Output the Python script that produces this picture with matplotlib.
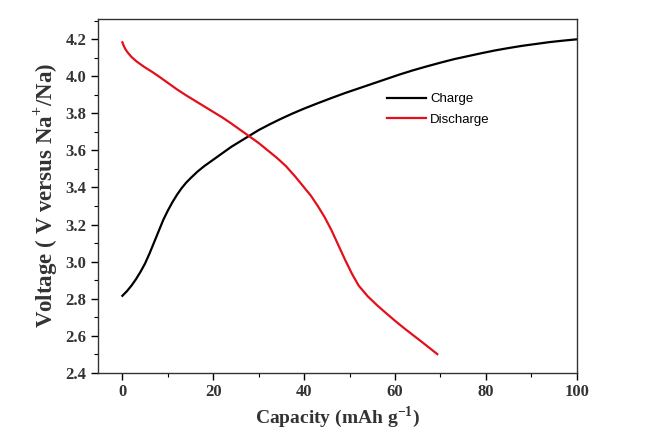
import matplotlib
matplotlib.use("Agg")
import matplotlib.pyplot as plt
from matplotlib.ticker import MultipleLocator

plt.rcParams["mathtext.fontset"] = "custom"
plt.rcParams["mathtext.bf"] = "Liberation Serif:bold"
plt.rcParams["mathtext.rm"] = "Liberation Serif:bold"

# charge / discharge profiles (capacity in mAh/g, voltage in V)
charge_cap = [0, 1, 2, 3, 4, 5, 6, 7, 8, 9, 10, 11, 12, 13, 14, 15, 16.5, 18,
              20, 22, 24, 26, 28, 30, 32.5, 35, 37.5, 40, 43, 46, 49, 52, 55,
              58, 61, 64, 67, 70, 73, 76, 79, 82, 85, 88, 91, 94, 97, 100]
charge_v = [2.815, 2.84, 2.87, 2.905, 2.945, 2.99, 3.045, 3.105, 3.165, 3.225,
            3.275, 3.32, 3.36, 3.395, 3.425, 3.45, 3.485, 3.515, 3.55, 3.585,
            3.62, 3.65, 3.68, 3.71, 3.742, 3.772, 3.80, 3.826, 3.855, 3.883,
            3.91, 3.935, 3.96, 3.985, 4.01, 4.033, 4.054, 4.074, 4.093, 4.109,
            4.125, 4.14, 4.153, 4.165, 4.175, 4.185, 4.193, 4.20]

discharge_cap = [0, 0.3, 0.7, 1.2, 2, 3, 4, 5, 6.5, 8, 10, 12, 14, 16, 18, 20,
                 22, 24, 26, 28, 30, 32, 34, 36, 38, 40, 41.5, 43, 44.5, 46,
                 47.5, 49, 50.5, 52, 54, 56, 58, 60, 62, 64, 66, 67.5, 69.3]
discharge_v = [4.184, 4.165, 4.145, 4.128, 4.105, 4.083, 4.065, 4.048, 4.025,
               4.0, 3.965, 3.93, 3.898, 3.868, 3.838, 3.808, 3.778, 3.745,
               3.71, 3.675, 3.64, 3.60, 3.56, 3.515, 3.46, 3.40, 3.355, 3.30,
               3.24, 3.17, 3.09, 3.01, 2.935, 2.87, 2.812, 2.765, 2.722, 2.68,
               2.64, 2.602, 2.564, 2.535, 2.50]

fig = plt.figure(figsize=(6.51, 4.41), dpi=100)
ax = fig.add_axes([0.151, 0.155, 0.735, 0.802])

ax.plot(charge_cap, charge_v, color="black", lw=1.6, label="Charge")
ax.plot(discharge_cap, discharge_v, color="#e3101c", lw=1.6, label="Discharge")

ax.set_xlim(-5.3, 100)
ax.set_ylim(2.4, 4.31)
ax.xaxis.set_major_locator(MultipleLocator(20))
ax.xaxis.set_minor_locator(MultipleLocator(10))
ax.yaxis.set_major_locator(MultipleLocator(0.2))
ax.yaxis.set_minor_locator(MultipleLocator(0.1))
ax.yaxis.set_major_formatter(plt.FuncFormatter(lambda v, p: f"{v:.1f}"))

ax.tick_params(which="major", direction="out", length=5, width=1,
               top=False, right=False)
ax.tick_params(which="minor", direction="out", length=3, width=0.8,
               top=False, right=False)
for s in ax.spines.values():
    s.set_linewidth(1.0)
    s.set_color("#333333")

serif = {"family": "Liberation Serif", "weight": "bold"}
for lab in ax.get_xticklabels() + ax.get_yticklabels():
    lab.set_fontfamily("Liberation Serif")
    lab.set_fontweight("bold")
    lab.set_fontsize(12)
    lab.set_color("#333333")

ax.set_xlabel("Capacity (mAh g$^{-1}$)", fontdict=serif, fontsize=14,
              color="#333333", labelpad=3)
ax.set_ylabel("Voltage ( V versus Na$^{+}$/Na)", fontdict=serif,
              fontsize=16.5, color="#333333", labelpad=3)

leg = ax.legend(loc="upper left", bbox_to_anchor=(0.603, 0.79), frameon=False,
                borderpad=0, borderaxespad=0, handlelength=3.0,
                handletextpad=0.3, labelspacing=0.6,
                prop={"family": "Liberation Sans", "size": 9.5})

fig.savefig("out.png", dpi=100)
